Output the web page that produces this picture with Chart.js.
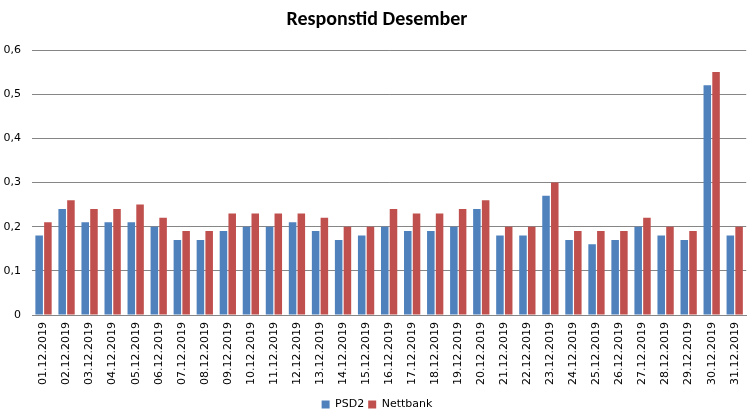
<!DOCTYPE html>
<html lang="no">
<head>
<meta charset="UTF-8">
<title>Responstid Desember</title>
<script src="https://cdn.jsdelivr.net/npm/chart.js@4.4.1/dist/chart.umd.min.js"></script>
<style>
html, body { margin: 0; padding: 0; background: #fff; }
#wrap { width: 755px; height: 416px; }
</style>
</head>
<body>
<div id="wrap"><canvas id="myChart" width="755" height="416"></canvas></div>
<script>
// dates for december
var Dates = [];
for (var d = 1; d <= 31; d++) {
  Dates.push((d < 10 ? '0' + d : '' + d) + '.12.2019');
}

var PSD2 = [0.18, 0.24, 0.21, 0.21, 0.21, 0.20, 0.17, 0.17, 0.19, 0.20,
            0.20, 0.21, 0.19, 0.17, 0.18, 0.20, 0.19, 0.19, 0.20, 0.24,
            0.18, 0.18, 0.27, 0.17, 0.16, 0.17, 0.20, 0.18, 0.17, 0.52, 0.18];
var Nettbank = [0.21, 0.26, 0.24, 0.24, 0.25, 0.22, 0.19, 0.19, 0.23, 0.23,
                0.23, 0.23, 0.22, 0.20, 0.20, 0.24, 0.23, 0.23, 0.24, 0.26,
                0.20, 0.20, 0.30, 0.19, 0.19, 0.19, 0.22, 0.20, 0.19, 0.55, 0.20];
var YTicks = [0, 0.1, 0.2, 0.3, 0.4, 0.5, 0.6];

var fontFam = '"DejaVu Sans", Verdana, sans-serif';

var ctx = document.getElementById('myChart').getContext('2d');
var chart = new Chart(ctx, {
  type: 'bar',
  data: {
    labels: Dates,
    datasets: [{
      label: 'PSD2',
      backgroundColor: '#4F81BD',
      data: PSD2
    }, {
      label: 'Nettbank',
      backgroundColor: '#C0504D',
      data: Nettbank
    }]
  },
  options: {
    responsive: false,
    animation: false,
    layout: { padding: { left: 4, right: 5, top: 0, bottom: -4 } },
    categoryPercentage: 0.76,
    barPercentage: 0.86,
    plugins: {
      title: {
        display: true,
        text: 'Responstid Desember',
        color: '#000',
        font: { family: 'Carlito, "Open Sans", sans-serif', size: 20, weight: 'bold' },
        padding: { top: 8, bottom: 18 }
      },
      legend: {
        position: 'bottom',
        labels: {
          color: '#000',
          boxWidth: 8,
          boxHeight: 8,
          padding: 4,
          font: { family: fontFam, size: 11 }
        }
      },
      tooltip: { enabled: false }
    },
    scales: {
      x: {
        grid: { display: false, drawTicks: false },
        border: { color: '#868686' },
        ticks: {
          color: '#000',
          minRotation: 90,
          maxRotation: 90,
          autoSkip: false,
          padding: 7,
          font: { family: fontFam, size: 11 }
        },
        afterFit: function(axis) { axis.height = 80; }
      },
      y: {
        min: 0,
        max: 0.6,
        afterBuildTicks: function(axis) {
          axis.ticks = YTicks.map(function(v) { return { value: v }; });
        },
        grid: { color: '#868686', drawTicks: false },
        border: { display: false },
        ticks: {
          color: '#000',
          padding: 11,
          font: { family: fontFam, size: 11 },
          callback: function(v) { return String(Math.round(v * 10) / 10).replace('.', ','); }
        },
        afterFit: function(axis) { axis.width = 28; }
      }
    }
  }
});
</script>
</body>
</html>
